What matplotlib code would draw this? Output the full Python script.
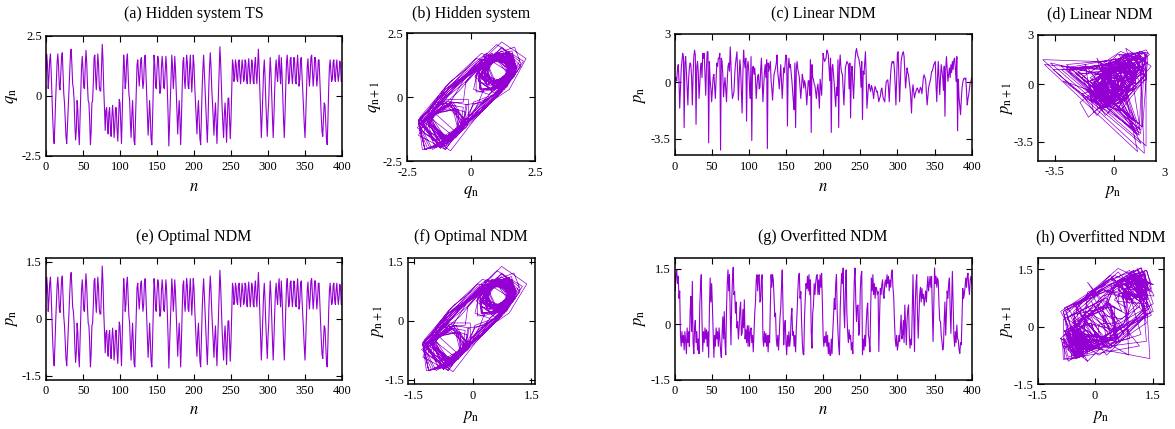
import numpy as np
import matplotlib
matplotlib.use("Agg")
import matplotlib.pyplot as plt
import matplotlib.transforms as mtransforms

# ---- data (one value per step n = 0..400) ----
q_hidden = [
    1.05, 1.75, 1.3, 0.3, 0.8, 1.5, 1.75, 1.0, 0.0, -0.9,
    -1.6, -2.0, -1.2, -0.2, 0.6, 1.4, 1.75, 1.2, 0.4, 0.25,
    0.9, 1.6, 1.8, 1.0, 0.1, -0.3, -1.0, -1.7, -2.0, -1.3,
    -0.5, 0.2, 1.0, 1.7, 1.95, 1.3, 0.5, 0.3, -0.2, -1.2,
    -1.85, -1.4, -0.2, -0.6, -1.5, -2.05, -1.0, 0.2, 1.2, 1.65,
    1.1, 0.35, 0.3, 1.2, 1.9, 1.4, 0.5, -0.2, -0.3, -1.0,
    -2.05, -1.5, -0.3, -0.2, 0.6, 1.6, 1.7, 0.8, 0.25, 1.0,
    1.75, 1.3, 0.4, 0.2, 0.2, 1.2, 2.15, 1.5, 0.3, -0.5,
    -1.45, -0.6, -0.5, -1.2, -1.6, -0.7, -0.5, -1.3, -1.7, -0.9,
    -0.4, -0.9, -1.75, -1.3, -0.5, -0.5, -1.4, -1.9, -1.0, -0.15,
    -0.3, -1.2, -2.0, -0.8, 0.6, 1.7, 1.2, 0.3, 0.6, 1.5,
    1.75, 0.9, 0.1, -0.2, -1.1, -1.75, -0.8, -0.2, -1.0, -1.9,
    -2.05, -0.9, 0.3, 1.3, 1.5, 0.9, 0.4, 0.9, 1.5, 1.6,
    0.8, 0.3, 0.6, 1.5, 1.7, 1.0, 0.1, -0.8, -1.65, -1.0,
    -0.2, -0.9, -1.8, -2.05, -1.0, 0.4, 1.7, 1.3, 0.4, 0.3,
    1.1, 1.65, 1.5, 0.7, 0.1, 0.3, 1.2, 1.65, 1.2, 0.35,
    0.3, 1.0, 1.65, 1.2, 0.2, -0.8, -2.1, -1.2, -0.2, 0.8,
    1.7, 1.2, 0.3, 0.8, 1.65, 1.1, 0.2, -0.6, -1.6, -0.8,
    -0.2, -1.0, -2.05, -1.0, 0.3, 1.4, 1.6, 0.7, 0.3, 1.0,
    1.7, 1.4, 0.4, 0.3, 1.1, 1.7, 0.9, 0.15, 0.8, 1.7,
    1.3, 0.4, -0.3, -1.0, -1.6, -0.7, -0.2, -1.0, -1.8, -2.05,
    -0.9, 0.3, 1.1, 1.7, 1.0, 0.2, -0.5, -1.2, -1.95, -1.0,
    0.3, 1.2, 1.8, 1.2, 0.3, -0.3, -1.0, -1.65, -0.8, -0.3,
    -1.2, -2.0, -1.0, -0.1, 1.0, 2.05, 1.4, 0.4, -0.5, -1.2,
    -1.75, -0.8, -0.3, -1.0, -1.95, -1.0, -0.1, -0.1, -0.9, -1.8,
    -1.0, 0.2, 1.5, 1.3, 0.6, 0.8, 1.5, 1.3, 0.7, 0.6,
    1.4, 1.5, 0.9, 0.5, 1.0, 1.5, 1.2, 0.6, 0.7, 1.5,
    1.4, 0.7, 0.5, 1.2, 1.55, 1.0, 0.5, 0.9, 1.5, 1.3,
    0.6, 0.5, 1.3, 1.6, 0.9, 0.5, 1.2, 1.95, 1.2, 0.2,
    -0.8, -1.75, -0.9, 0.1, 1.0, 1.5, 0.8, -0.2, -1.0, -1.7,
    -0.8, -0.2, 0.8, 1.6, 1.0, 0.0, -0.9, -1.75, -0.9, 0.2,
    1.1, 1.5, 0.9, 0.6, 1.3, 1.7, 1.0, 0.5, 1.6, 0.9,
    -0.1, -1.0, -1.75, -0.8, 0.4, 1.4, 1.7, 1.1, 0.5, 0.7,
    1.5, 1.6, 0.9, 0.5, 1.0, 1.6, 1.4, 0.6, 0.5, 1.2,
    1.7, 1.1, 0.4, 0.7, 1.5, 1.6, 0.8, 0.2, -0.5, -1.2,
    -1.75, -0.9, 0.2, 1.2, 1.55, 0.9, 0.4, 0.9, 1.6, 1.7,
    1.0, 0.4, 0.8, 1.6, 1.6, 1.0, 0.4, 0.8, 1.5, 1.5,
    0.7, -0.1, -0.9, -1.5, -1.7, -0.9, -0.3, -0.4, -1.1, -1.8,
    -2.05, -1.0, 0.3, 1.2, 1.5, 1.0, 0.6, 0.7, 1.4, 1.5,
    0.8, 0.6, 1.2, 1.5, 1.0, 0.6, 0.9, 1.45, 1.3, 0.6,
    0.6,
]

p_optimal = [
    0.65, 1.09, 0.81, 0.19, 0.50, 0.93, 1.09, 0.62, 0.00, -0.56,
    -0.99, -1.24, -0.74, -0.12, 0.37, 0.87, 1.09, 0.74, 0.25, 0.16,
    0.56, 0.99, 1.12, 0.62, 0.06, -0.19, -0.62, -1.05, -1.24, -0.81,
    -0.31, 0.12, 0.62, 1.05, 1.21, 0.81, 0.31, 0.19, -0.12, -0.74,
    -1.15, -0.87, -0.12, -0.37, -0.93, -1.27, -0.62, 0.12, 0.74, 1.02,
    0.68, 0.22, 0.19, 0.74, 1.18, 0.87, 0.31, -0.12, -0.19, -0.62,
    -1.27, -0.93, -0.19, -0.12, 0.37, 0.99, 1.05, 0.50, 0.16, 0.62,
    1.09, 0.81, 0.25, 0.12, 0.12, 0.74, 1.38, 0.93, 0.19, -0.31,
    -0.90, -0.37, -0.31, -0.74, -0.99, -0.43, -0.31, -0.81, -1.05, -0.56,
    -0.25, -0.56, -1.09, -0.81, -0.31, -0.31, -0.87, -1.18, -0.62, -0.09,
    -0.19, -0.74, -1.24, -0.50, 0.37, 1.05, 0.74, 0.19, 0.37, 0.93,
    1.09, 0.56, 0.06, -0.12, -0.68, -1.09, -0.50, -0.12, -0.62, -1.18,
    -1.27, -0.56, 0.19, 0.81, 0.93, 0.56, 0.25, 0.56, 0.93, 0.99,
    0.50, 0.19, 0.37, 0.93, 1.05, 0.62, 0.06, -0.50, -1.02, -0.62,
    -0.12, -0.56, -1.12, -1.27, -0.62, 0.25, 1.05, 0.81, 0.25, 0.19,
    0.68, 1.02, 0.93, 0.43, 0.06, 0.19, 0.74, 1.02, 0.74, 0.22,
    0.19, 0.62, 1.02, 0.74, 0.12, -0.50, -1.30, -0.74, -0.12, 0.50,
    1.05, 0.74, 0.19, 0.50, 1.02, 0.68, 0.12, -0.37, -0.99, -0.50,
    -0.12, -0.62, -1.27, -0.62, 0.19, 0.87, 0.99, 0.43, 0.19, 0.62,
    1.05, 0.87, 0.25, 0.19, 0.68, 1.05, 0.56, 0.09, 0.50, 1.05,
    0.81, 0.25, -0.19, -0.62, -0.99, -0.43, -0.12, -0.62, -1.12, -1.27,
    -0.56, 0.19, 0.68, 1.05, 0.62, 0.12, -0.31, -0.74, -1.21, -0.62,
    0.19, 0.74, 1.12, 0.74, 0.19, -0.19, -0.62, -1.02, -0.50, -0.19,
    -0.74, -1.24, -0.62, -0.06, 0.62, 1.27, 0.87, 0.25, -0.31, -0.74,
    -1.09, -0.50, -0.19, -0.62, -1.21, -0.62, -0.06, -0.06, -0.56, -1.12,
    -0.62, 0.12, 0.93, 0.81, 0.37, 0.50, 0.93, 0.81, 0.43, 0.37,
    0.87, 0.93, 0.56, 0.31, 0.62, 0.93, 0.74, 0.37, 0.43, 0.93,
    0.87, 0.43, 0.31, 0.74, 0.96, 0.62, 0.31, 0.56, 0.93, 0.81,
    0.37, 0.31, 0.81, 0.99, 0.56, 0.31, 0.74, 1.21, 0.74, 0.12,
    -0.50, -1.09, -0.56, 0.06, 0.62, 0.93, 0.50, -0.12, -0.62, -1.05,
    -0.50, -0.12, 0.50, 0.99, 0.62, 0.00, -0.56, -1.09, -0.56, 0.12,
    0.68, 0.93, 0.56, 0.37, 0.81, 1.05, 0.62, 0.31, 0.99, 0.56,
    -0.06, -0.62, -1.09, -0.50, 0.25, 0.87, 1.05, 0.68, 0.31, 0.43,
    0.93, 0.99, 0.56, 0.31, 0.62, 0.99, 0.87, 0.37, 0.31, 0.74,
    1.05, 0.68, 0.25, 0.43, 0.93, 0.99, 0.50, 0.12, -0.31, -0.74,
    -1.09, -0.56, 0.12, 0.74, 0.96, 0.56, 0.25, 0.56, 0.99, 1.05,
    0.62, 0.25, 0.50, 0.99, 0.99, 0.62, 0.25, 0.50, 0.93, 0.93,
    0.43, -0.06, -0.56, -0.93, -1.05, -0.56, -0.19, -0.25, -0.68, -1.12,
    -1.27, -0.62, 0.19, 0.74, 0.93, 0.62, 0.37, 0.43, 0.87, 0.93,
    0.50, 0.37, 0.74, 0.93, 0.62, 0.37, 0.56, 0.90, 0.81, 0.37,
    0.37,
]

p_linear = [
    -0.9, -0.2, 0.3, 0.1, 0.8, 1.1, 0.2, -1.6, -0.4, 0.8,
    1.3, 1.8, 1.6, -2.8, 1.2, 1.6, 0.7, -0.4, -1.4, 0.2,
    0.9, 1.2, 1.1, 0.3, -1.4, 0.4, 1.6, 2.0, 1.7, -2.6,
    1.0, 1.3, 0.6, -1.0, -0.2, 0.9, 1.2, 0.3, 1.8, 1.5,
    1.8, 0.5, -0.8, 0.9, 1.9, 1.9, -3.75, 1.3, 0.1, -0.4,
    -1.2, -0.5, 0.3, 0.5, -0.3, -1.0, 0.2, 1.2, 1.0, 1.5,
    1.5, 1.8, -4.2, 1.5, 1.3, 0.5, -0.9, -0.2, 0.3, -0.4,
    -1.2, 0.1, 1.0, 1.2, 0.7, 2.2, 1.1, -0.3, -1.0, -0.8,
    -0.6, 0.4, 1.1, 1.5, 1.9, 0.6, -1.1, 0.3, 1.4, 0.8,
    -0.5, -1.9, 0.4, 2.0, 1.3, 0.9, 1.5, -2.4, 1.0, 1.3,
    0.7, -0.3, -1.0, 1.6, -3.6, 0.9, 1.0, 0.5, 0.9, 0.2,
    -1.0, -0.2, 0.4, 0.5, -0.4, -0.3, 0.8, 1.5, 0.2, -1.2,
    -0.3, 0.6, 1.1, 0.3, 1.4, -4.1, 1.2, 0.7, 1.0, 1.3,
    0.1, -0.4, -1.1, -0.2, 0.5, 0.7, 0.9, 1.2, 1.7, 0.6,
    0.2, -0.4, 0.4, 1.1, 0.1, -1.0, -0.1, 0.9, 0.6, 1.2,
    1.7, 1.5, -2.7, 0.8, 1.5, 0.9, 1.1, 0.6, 0.1, -0.6,
    -1.2, -1.7, 1.2, -2.8, 0.9, 1.3, 0.8, 0.6, 0.3, -0.4,
    -1.0, -0.3, 0.5, 0.2, -0.35, 0.1, -0.1, -0.6, -1.4, -0.7,
    0.1, 0.1, -0.8, 1.4, -3.1, 1.1, 0.3, 0.2, -0.1, -0.2,
    -0.6, -1.0, -0.4, -0.1, -0.7, -1.6, 0.2, -0.3, -0.8, 0.6,
    1.8, 1.5, 1.3, 1.4, 1.5, 2.0, 1.9, 1.7, 0.9, 0.1,
    1.5, -3.1, 0.9, 1.1, 0.5, -0.1, -0.9, -1.5, -0.3, -0.8,
    1.4, -2.8, 1.0, 1.7, 0.9, 0.6, 0.5, -0.5, -1.4, -0.2,
    0.9, 1.1, 1.3, 1.2, 1.1, -0.4, 1.2, -2.2, 0.6, 1.0,
    -0.1, -1.0, 0.2, 1.4, 1.9, 2.1, 1.8, 1.6, 1.5, 1.2,
    0.9, -0.3, 1.3, -2.3, 0.7, 0.5, 1.2, 1.9, 0.4, -1.6,
    -0.9, -0.2, -0.1, -0.4, -0.55, -0.2, -0.35, -0.6, -1.0, -0.5,
    -0.25, -0.4, -0.6, -0.55, -0.9, -1.2, -1.0, -0.87, -0.5, -0.35,
    -0.7, -1.0, -1.1, -1.2, -0.5, 0.06, 0.1, 0.16, -0.3, -1.2,
    -0.2, 0.6, 1.1, 1.3, 1.2, 1.3, 0.8, -0.2, -1.4, 0.2,
    1.8, 1.9, 0.3, -1.2, 0.1, 1.3, 1.6, 1.8, 1.9, 1.6,
    0.6, -0.35, 0.3, 0.9, 0.6, 0.47, 0.0, -0.35, -1.0, -1.9,
    -0.6, -0.14, -0.6, -0.97, -0.7, -0.55, -0.4, -0.35, -0.5, -0.66,
    -0.5, -0.3, -0.4, -0.7, -0.2, 0.3, 0.47, 0.3, 0.16, -0.6,
    -1.4, -0.9, -0.35, -0.1, 0.06, 0.3, 0.68, 0.7, 0.9, 1.1,
    1.2, 1.3, -0.2, -1.2, 0.3, 1.3, 0.2, -0.76, 0.3, 1.1,
    0.7, 0.27, -0.5, 1.0, -2.1, 0.8, 1.6, 0.8, 0.06, 0.5,
    0.9, 0.3, 1.1, 0.6, 1.3, 0.8, 1.4, 1.5, 0.9, 0.06,
    1.6, -3.0, 0.2, -0.97, -1.5, -2.0, -1.1, -0.35, 0.0, 0.2,
    0.27, 0.2, 0.27, -0.5, -1.4, -1.0, -0.76, -0.4, 0.0, 0.06,
    0.3,
]

p_overfit = [
    1.3, 0.9, 1.34, 1.47, 1.1, 1.3, 0.7, 0.9, -0.3, -0.6,
    -0.2, -0.5, -0.3, -0.7, -0.2, -0.45, -0.8, -0.1, -0.5, -0.2,
    -0.6, 0.3, 0.75, -0.2, 1.16, -0.5, -0.8, -0.1, 0.1, -0.5,
    -0.2, -0.7, -0.4, -0.8, 0.5, 1.0, 1.34, 0.1, -0.74, -0.2,
    -0.5, -0.1, -0.4, -0.15, -0.6, -0.2, -0.9, 0.4, 1.25, 0.6,
    1.1, 0.5, -0.2, -0.9, -0.3, -0.6, -0.1, -0.4, -0.2, -0.6,
    -0.1, -0.4, -0.7, -0.9, -0.3, 0.2, -0.4, 0.34, -0.5, -0.83,
    0.4, 1.1, 1.47, 0.9, 1.34, 0.3, -0.56, 0.6, 1.2, 1.54,
    0.8, 0.88, 0.3, 0.6, -0.1, 0.07, -0.4, -0.1, 0.4, 0.6,
    -0.3, -0.25, 0.4, -0.1, 0.66, -0.4, -0.15, -0.5, -0.04, -0.6,
    -0.04, -0.6, -0.2, -0.1, -0.5, -0.3, -0.75, -0.2, 0.3, 0.6,
    1.2, 1.34, 0.9, 1.3, 1.34, 0.6, 0.66, 1.2, 1.34, -0.38,
    -0.6, -0.2, -0.5, -0.25, -0.6, -0.3, -0.75, -0.3, -0.5, 0.5,
    1.34, 1.0, 1.34, 1.2, 0.7, 0.2, 0.3, -0.4, -0.6, -0.3,
    -0.7, -0.3, 0.2, 0.43, 1.0, 1.47, 0.4, -0.56, -0.1, 0.1,
    -0.5, -0.83, -0.3, -0.6, -0.2, -0.6, -0.4, 0.2, 0.43, -0.3,
    -0.2, -0.6, -0.3, -0.75, -0.1, 0.34, 0.9, 1.3, 1.38, 0.7,
    0.88, 0.1, -0.47, -0.8, -0.83, 0.2, 0.7, 1.1, 0.97, 1.3,
    0.9, 1.34, 0.8, 1.2, -0.2, -0.65, 0.3, 0.5, 1.1, 0.8,
    1.11, 1.3, 1.34, 0.8, 1.2, 0.8, 1.34, 1.0, 1.38, 0.6,
    -0.3, -0.6, -0.33, -0.5, -0.2, -0.6, -0.3, -0.8, -0.5, -0.83,
    -0.85, -0.4, -0.8, -0.2, 0.2, 0.7, 0.4, 1.1, 1.34, 0.3,
    -0.2, -0.6, -0.83, 0.4, 1.0, 1.38, 1.1, 1.52, 0.4, -0.1,
    0.9, 1.47, 0.3, -0.2, -0.5, -0.15, -0.4, -0.3, -0.7, -0.5,
    -0.8, 0.3, 1.2, 1.52, 0.6, 0.07, 0.5, 0.52, -0.3, -0.2,
    0.9, 1.3, 1.43, -0.83, -0.4, -0.7, -0.3, -0.6, 0.0, 0.4,
    0.57, -0.3, -0.4, -0.75, 0.4, 1.25, 0.9, 1.34, 0.8, 1.1,
    0.7, 1.0, 0.97, 0.8, 0.88, -0.74, 0.2, 0.97, 0.8, 1.06,
    1.2, 0.8, 0.7, 1.1, 1.2, 1.0, 1.34, 1.1, 1.29, 0.9,
    1.2, 1.0, 1.35, 1.47, 1.0, 0.75, 0.1, -0.38, -0.6, -0.3,
    -0.7, -0.56, -0.3, -0.47, -0.1, 0.25, -0.4, -0.3, 0.1, -0.5,
    0.52, 0.0, -0.56, 0.1, 0.4, 0.52, -0.3, -0.65, -0.4, -0.56,
    0.4, 1.34, 0.3, -0.74, 0.5, 1.1, 1.34, 0.3, -0.38, 0.2,
    0.8, 1.0, 0.6, 0.97, 0.7, 0.8, 0.5, 0.7, 0.9, 0.6,
    1.0, 1.29, 0.9, 1.11, 1.3, 1.0, 1.29, 0.4, -0.47, 0.6,
    1.52, 1.1, 1.3, 1.0, 1.25, 1.16, 0.52, 0.1, 0.07, -0.3,
    -0.47, -0.7, -0.6, 0.1, 0.6, -0.3, 0.3, 0.9, 0.7, 1.1,
    1.25, 0.4, -0.25, 0.6, 1.43, 0.5, -0.3, -0.6, -0.2, -0.5,
    -0.02, -0.4, -0.43, -0.7, -0.79, -0.5, -0.56, 0.2, 0.97, 0.7,
    0.8, 1.0, 1.25, 1.0, 1.29, 1.38, 1.0, 0.8, 1.2, 1.3,
    1.1,
]

n_ticks = [0, 50, 100, 150, 200, 250, 300, 350, 400]

PURPLE = '#9400d3'
W, H = 1175, 429

plt.rcParams['font.family'] = ['Liberation Serif', 'DejaVu Serif']
plt.rcParams['mathtext.fontset'] = 'stix'
plt.rcParams['axes.unicode_minus'] = False

fig = plt.figure(figsize=(W / 100, H / 100), dpi=100)


def px_axes(x0, y0, x1, y1):
    # box given in pixels, measured from the top-left corner
    return fig.add_axes([x0 / W, 1 - y1 / H, (x1 - x0) / W, (y1 - y0) / H])


def style(ax, xticks, yticks, xlim, ylim):
    ax.set_xlim(*xlim)
    ax.set_ylim(*ylim)
    ax.set_xticks(xticks)
    ax.set_xticklabels([f'{t:g}' for t in xticks])
    ax.set_yticks(yticks)
    ax.set_yticklabels([f'{t:g}' for t in yticks])
    ax.tick_params(direction='in', top=True, right=True, length=4, width=0.8,
                   labelsize=9, colors='black')
    ax.tick_params(axis='x', pad=4)
    ax.tick_params(axis='y', pad=3)
    for sp in ax.spines.values():
        sp.set_linewidth(1.1)


def label(x, y, s, rot=0, size=12):
    fig.text(x / W, 1 - y / H, s, ha='center', va='center', rotation=rot, fontsize=size)


def title(x, y, s):
    label(x, y, s, size=11.5)


# (a) hidden system time series
ax = px_axes(46, 36, 342, 155.5)
ax.plot(np.arange(len(q_hidden)), q_hidden, color=PURPLE, lw=0.8)
style(ax, n_ticks, [-2.5, 0, 2.5], (0, 400), (-2.5, 2.5))
title(194, 14, '(a) Hidden system TS')
label(194, 187, r'$n$')
label(12, 96, r'$q_{\rm n}$', 90)

# (b) hidden system delay portrait
ax = px_axes(407, 33, 535, 161)
ax.plot(q_hidden[:-1], q_hidden[1:], color=PURPLE, lw=0.5)
style(ax, [-2.5, 0, 2.5], [-2.5, 0, 2.5], (-2.5, 2.5), (-2.5, 2.5))
title(471, 14, '(b) Hidden system')
label(471, 192, r'$q_{\rm n}$')
label(375, 97, r'$q_{\rm n+1}$', 90)

# (c) linear NDM time series
ax = px_axes(674.5, 34, 971.7, 155)
ax.plot(np.arange(len(p_linear)), p_linear, color=PURPLE, lw=0.8)
style(ax, n_ticks, [-3.5, 0, 3], (0, 400), (-4.5, 3))
title(823, 14, '(c) Linear NDM')
label(823, 187, r'$n$')
label(640, 95, r'$p_{\rm n}$', 90)

# (d) linear NDM delay portrait
ax = px_axes(1037.7, 35, 1155.7, 160.7)
ax.plot(p_linear[:-1], p_linear[1:], color=PURPLE, lw=0.5)
style(ax, [-3.5, 0], [-3.5, 0, 3], (-4.5, 2.47), (-4.65, 3))
ax.text(3, -0.1, '3', transform=mtransforms.blended_transform_factory(ax.transData, ax.transAxes),
        ha='center', va='center', fontsize=9, clip_on=False)
title(1100, 14, '(d) Linear NDM')
label(1113, 192, r'$p_{\rm n}$')
label(1007, 98, r'$p_{\rm n+1}$', 90)

# (e) optimal NDM time series
ax = px_axes(46, 257.7, 342, 379.5)
ax.plot(np.arange(len(p_optimal)), p_optimal, color=PURPLE, lw=0.8)
style(ax, n_ticks, [-1.5, 0, 1.5], (0, 400), (-1.6, 1.6))
title(194, 237, '(e) Optimal NDM')
label(194, 410, r'$n$')
label(12, 318, r'$p_{\rm n}$', 90)

# (f) optimal NDM delay portrait
ax = px_axes(408.3, 257.7, 535, 384.3)
ax.plot(p_optimal[:-1], p_optimal[1:], color=PURPLE, lw=0.5)
style(ax, [-1.5, 0, 1.5], [-1.5, 0, 1.5], (-1.64, 1.59), (-1.62, 1.6))
title(471, 237, '(f) Optimal NDM')
label(471, 417, r'$p_{\rm n}$')
label(378, 321, r'$p_{\rm n+1}$', 90)

# (g) overfitted NDM time series
ax = px_axes(674.5, 257.7, 971.7, 379.6)
ax.plot(np.arange(len(p_overfit)), p_overfit, color=PURPLE, lw=0.8)
style(ax, n_ticks, [-1.5, 0, 1.5], (0, 400), (-1.5, 1.8))
title(823, 237, '(g) Overfitted NDM')
label(823, 410, r'$n$')
label(640, 318, r'$p_{\rm n}$', 90)

# (h) overfitted NDM delay portrait
ax = px_axes(1037.7, 257.7, 1164, 384.3)
ax.plot(p_overfit[:-1], p_overfit[1:], color=PURPLE, lw=0.5)
style(ax, [-1.5, 0, 1.5], [-1.5, 0, 1.5], (-1.5, 1.8), (-1.5, 1.8))
title(1101, 237, '(h) Overfitted NDM')
label(1101, 417, r'$p_{\rm n}$')
label(1007, 321, r'$p_{\rm n+1}$', 90)

fig.savefig('out.png', dpi=100)
